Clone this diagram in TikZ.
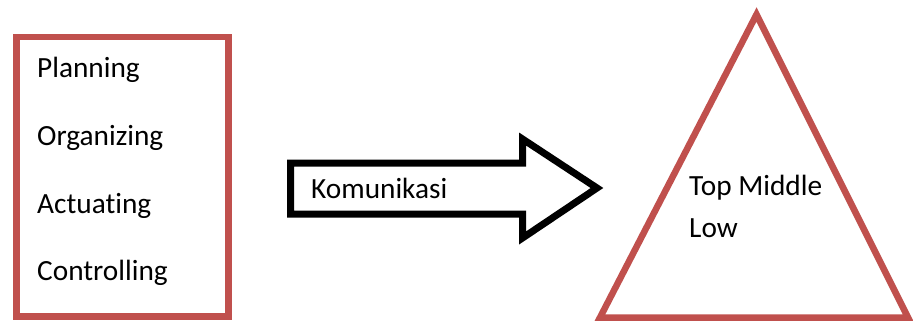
\documentclass[tikz,border=0pt]{standalone}
\usepackage{fontspec}
\setmainfont{Carlito}[Ligatures=NoCommon]
\usepackage{xcolor}
\usetikzlibrary{positioning, calc}
\definecolor{boxred}{HTML}{C0504D}

\begin{document}
\begin{tikzpicture}[x=1pt, y=-1pt,
    redline/.style={draw=boxred, line width=6.5pt},
    blkline/.style={draw=black, line width=7pt, miter limit=10},
    lbl/.style={anchor=base west, inner sep=0pt, font=\fontsize{29.3}{35}\selectfont}]
      \useasboundingbox (0,0) rectangle (913,322);

      % the four functions
      \draw [redline] (16.5,37) rectangle (228.5,316.5);
      \node [lbl] (plan) at (37,77.5) {Planning};
      \node [lbl] (org) at (37,145) {Organizing};
      \node [lbl] (act) at (37,213) {Actuating};
      \node [lbl] (ctrl) at (37,280.5) {Controlling};

      % block arrow
      \draw [blkline] (290.5,163) -- (522.5,163) -- (522.5,139) -- (597,188)
        -- (522.5,238) -- (522.5,214) -- (290.5,214) -- cycle;
      \node [lbl] (kom) at (311,198) {Komunikasi};

      % levels
      \draw [redline] (600,317.5) -- (756.5,14.5) -- (908,317.5) -- cycle;
      \node [lbl] (top) at (689,195) {Top Middle};
      \node [lbl] (low) at (689,237) {Low};
    \end{tikzpicture}
\end{document}
